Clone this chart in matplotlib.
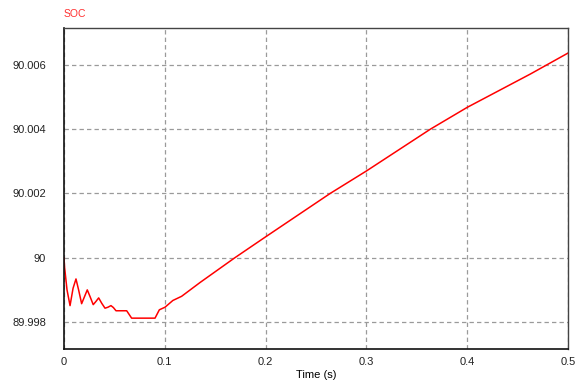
import matplotlib
matplotlib.use('Agg')
import matplotlib.pyplot as plt

# === SOC trace ===
time_s = [0.0, 0.0005, 0.003, 0.006, 0.009, 0.0119, 0.0145, 0.0175, 0.0205,
          0.0231, 0.026, 0.029, 0.0317, 0.0344, 0.0375, 0.0407, 0.0436,
          0.0466, 0.049, 0.0516, 0.0622, 0.0671, 0.0903, 0.0946, 0.1002,
          0.108, 0.1167, 0.135, 0.1695, 0.2, 0.264, 0.3, 0.3634, 0.4,
          0.4628, 0.5]
soc = [90.0, 89.99973, 89.9990, 89.99851, 89.99905, 89.99934, 89.9990,
       89.99857, 89.9988, 89.99900, 89.99878, 89.99854, 89.99864, 89.99875,
       89.99858, 89.99843, 89.99846, 89.99851, 89.99845, 89.99835, 89.99835,
       89.99812, 89.99812, 89.99838, 89.99846, 89.99867, 89.99880, 89.99923,
       90.0, 90.00065, 90.002, 90.0027, 90.004, 90.00468, 90.00572, 90.00637]

x_ticks = [0, 0.1, 0.2, 0.3, 0.4, 0.5]
x_labels = ["0", "0.1", "0.2", "0.3", "0.4", "0.5"]
y_ticks = [89.998, 90.0, 90.002, 90.004, 90.006]
y_labels = ["89.998", "90", "90.002", "90.004", "90.006"]

plt.rcParams['font.family'] = ['Liberation Sans', 'DejaVu Sans']

fig = plt.figure(figsize=(5.77, 3.81), dpi=100)
ax = fig.add_axes([0.1109, 0.0840, 0.8735, 0.8425])

ax.plot(time_s, soc, color='#ff0000', linewidth=1.1)

ax.set_xlim(0, 0.5)
ax.set_ylim(89.99716, 90.00715)
ax.set_xticks(x_ticks)
ax.set_xticklabels(x_labels)
ax.set_yticks(y_ticks)
ax.set_yticklabels(y_labels)
ax.tick_params(length=0, labelsize=8, colors='#222222', pad=6)
ax.tick_params(axis='y', pad=13)

ax.grid(True, color='#9a9a9a', linestyle=(0, (3.5, 2.5)), linewidth=0.9)
for side in ['left', 'bottom']:
    ax.spines[side].set_color('#111111')
    ax.spines[side].set_linewidth(1.2)
for side in ['top', 'right']:
    ax.spines[side].set_color('#444444')
    ax.spines[side].set_linewidth(1.0)

ax.set_xlabel('Time (s)', fontsize=8, labelpad=2)
fig.text(0.111, 0.963, 'SOC', color='#ff3030', fontsize=7.5, ha='left', va='center')

fig.savefig('out.png', dpi=100)
